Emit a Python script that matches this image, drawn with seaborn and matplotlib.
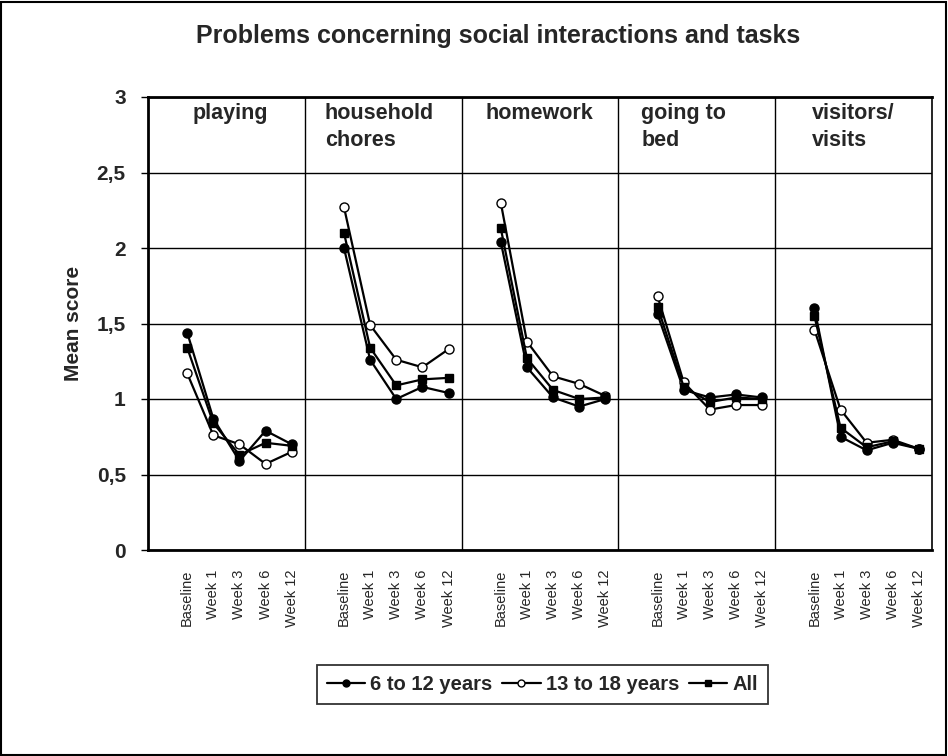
import numpy as np
import pandas as pd
import matplotlib
matplotlib.use("Agg")
import matplotlib.pyplot as plt
from matplotlib.lines import Line2D
from matplotlib.patches import Rectangle
import seaborn as sns

activities = ["playing", "household\nchores", "homework", "going to\nbed", "visitors/\nvisits"]
weeks = ["Baseline", "Week 1", "Week 3", "Week 6", "Week 12"]
series = ["6 to 12 years", "13 to 18 years", "All"]

# mean scores per activity (rows) and week (columns)
young = [[1.44, 0.87, 0.59, 0.79, 0.70],
         [2.00, 1.26, 1.00, 1.08, 1.04],
         [2.04, 1.21, 1.01, 0.95, 1.00],
         [1.56, 1.06, 1.01, 1.03, 1.01],
         [1.60, 0.75, 0.66, 0.71, 0.67]]
teen = [[1.17, 0.76, 0.70, 0.57, 0.65],
        [2.27, 1.49, 1.26, 1.21, 1.33],
        [2.30, 1.38, 1.15, 1.10, 1.02],
        [1.68, 1.11, 0.93, 0.96, 0.96],
        [1.46, 0.93, 0.71, 0.73, 0.67]]
everyone = [[1.34, 0.84, 0.63, 0.71, 0.69],
            [2.10, 1.34, 1.09, 1.13, 1.14],
            [2.13, 1.27, 1.06, 1.00, 1.01],
            [1.61, 1.08, 0.98, 1.01, 1.00],
            [1.55, 0.81, 0.68, 0.72, 0.67]]

yticks = [0, 0.5, 1, 1.5, 2, 2.5, 3]
ytick_labels = ["0", "0,5", "1", "1,5", "2", "2,5", "3"]

# one empty slot before each block of five weeks
slots = len(weeks) + 1
rows = []
for s, vals in zip(series, [young, teen, everyone]):
    for a, act in enumerate(activities):
        for w, wk in enumerate(weeks):
            rows.append({"series": s, "activity": act, "week": wk,
                         "x": a * slots + w + 1, "score": vals[a][w]})
df = pd.DataFrame(rows)

sns.set_theme(style="white")
plt.rcParams["font.family"] = ["Liberation Sans", "DejaVu Sans"]

fig = plt.figure(figsize=(9.48, 7.56), dpi=100)
ax = fig.add_axes([148 / 948, 1 - 550 / 756, 784 / 948, 453 / 756])

styles = {
    "6 to 12 years": dict(marker="o", markerfacecolor="black", markersize=6.5),
    "13 to 18 years": dict(marker="o", markerfacecolor="white", markersize=6.5),
    "All": dict(marker="s", markerfacecolor="black", markersize=6),
}
for s in series:
    sub = df[df["series"] == s]
    sns.lineplot(data=sub, x="x", y="score", units="activity", estimator=None,
                 color="black", linewidth=1.6, markeredgecolor="black",
                 markeredgewidth=1, ax=ax, zorder=3, **styles[s])

n = len(activities) * slots
ax.set_xlim(-0.5, n - 0.5)
ax.set_ylim(0, 3)
ax.set_yticks(yticks)
ax.set_yticklabels(ytick_labels, fontsize=15, fontweight="bold")
ax.yaxis.grid(True, color="black", linewidth=1)
for a in range(1, len(activities)):
    ax.axvline(a * slots - 0.5, color="black", linewidth=1)

xpos = [a * slots + w + 1 for a in range(len(activities)) for w in range(len(weeks))]
ax.set_xticks(xpos)
ax.set_xticklabels(weeks * len(activities), rotation=90, fontsize=10.5, va="top")
ax.set_xticks(np.arange(2.5, n, 3), minor=True)
ax.tick_params(axis="x", which="major", length=0, pad=14)
ax.tick_params(axis="x", which="minor", length=4, width=1, color="black", direction="out")
ax.tick_params(axis="y", length=5, width=1, color="black", direction="out", pad=11, left=True)
ax.set_xlabel("")
ax.set_ylabel("Mean score", fontsize=15, fontweight="bold", labelpad=10)

for sp in ax.spines.values():
    sp.set_color("black")
    sp.set_linewidth(1.2)
ax.spines["left"].set_linewidth(2)
ax.spines["bottom"].set_linewidth(2)
ax.spines["top"].set_linewidth(2)

label_x = [1.22, 6.27, 12.4, 18.37, 24.9]
for act, lx in zip(activities, label_x):
    ax.text(lx, 2.96, act, ha="left", va="top", fontsize=15.5, fontweight="bold",
            linespacing=1.35)

fig.text(0.525, 0.953, "Problems concerning social interactions and tasks",
         ha="center", va="center", fontsize=18, fontweight="bold")

handles = [Line2D([], [], color="black", linewidth=1.6, markeredgecolor="black",
                  markeredgewidth=1, **{**styles[s], "markersize": 5}) for s in series]
leg = fig.legend(handles, series, loc="center", bbox_to_anchor=(0.572, 0.095), ncol=3,
                 frameon=True, fancybox=False, edgecolor="black",
                 prop={"weight": "bold", "size": 14.5}, handlelength=1.9,
                 columnspacing=0.5, handletextpad=0.25, borderpad=0.5,
                 borderaxespad=0)
leg.get_frame().set_linewidth(1.3)

fig.patches.append(Rectangle((0.001, 0.001), 0.997, 0.997, transform=fig.transFigure,
                             fill=False, edgecolor="black", linewidth=1.5))

fig.savefig("out.png", dpi=100, facecolor="white")
